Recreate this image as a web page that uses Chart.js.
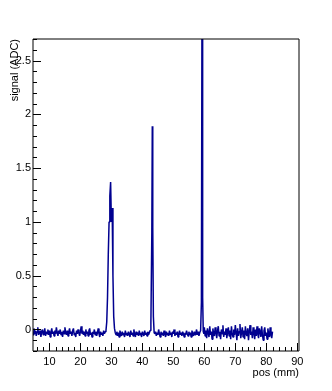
<!DOCTYPE html>
<html>
<head>
<meta charset="utf-8">
<script src="https://cdn.jsdelivr.net/npm/chart.js@4/dist/chart.umd.min.js"></script>
<style>
html,body{margin:0;padding:0;background:#fff;}
canvas{display:block;}
</style>
</head>
<body>
<canvas id="c" width="332" height="391"></canvas>
<script>
// position along the scan (mm)
const pos = [
4.5,4.75,5,5.25,5.5,5.75,6,6.25,6.5,6.75,
7,7.25,7.5,7.75,8,8.25,8.5,8.75,9,9.25,
9.5,9.75,10,10.25,10.5,10.75,11,11.25,11.5,11.75,
12,12.25,12.5,12.75,13,13.25,13.5,13.75,14,14.25,
14.5,14.75,15,15.25,15.5,15.75,16,16.25,16.5,16.75,
17,17.25,17.5,17.75,18,18.25,18.5,18.75,19,19.25,
19.5,19.75,20,20.25,20.5,20.75,21,21.25,21.5,21.75,
22,22.25,22.5,22.75,23,23.25,23.5,23.75,24,24.25,
24.5,24.75,25,25.25,25.5,25.75,26,26.25,26.5,26.75,
27,27.25,27.5,27.75,28,
28.25,28.5,28.75,29,29.25,29.5,29.75,30,30.25,30.5,30.75,31,31.25,
31.5,31.75,32,32.25,32.5,32.75,33,33.25,33.5,33.75,
34,34.25,34.5,34.75,35,35.25,35.5,35.75,36,36.25,
36.5,36.75,37,37.25,37.5,37.75,38,38.25,38.5,38.75,
39,39.25,39.5,39.75,40,40.25,40.5,40.75,41,41.25,
41.5,41.75,42,42.25,42.5,
42.75,43.05,43.2,43.35,43.55,43.8,
44,44.25,44.5,44.75,45,45.25,45.5,45.75,46,46.25,
46.5,46.75,47,47.25,47.5,47.75,48,48.25,48.5,48.75,
49,49.25,49.5,49.75,50,50.25,50.5,50.75,51,51.25,
51.5,51.75,52,52.25,52.5,52.75,53,53.25,53.5,53.75,
54,54.25,54.5,54.75,55,55.25,55.5,55.75,56,56.25,
56.5,56.75,57,57.25,57.5,57.75,58,58.25,58.5,
58.8,59.05,59.25,59.45,59.65,
59.85,60,60.25,60.5,60.75,61,61.25,61.5,61.75,62,
62.25,62.5,62.75,63,63.25,63.5,63.75,64,64.25,64.5,
64.75,65,65.25,65.5,65.75,66,66.25,66.5,66.75,67,
67.25,67.5,67.75,68,68.25,68.5,68.75,69,69.25,69.5,
69.75,70,70.25,70.5,70.75,71,71.25,71.5,71.75,72,
72.25,72.5,72.75,73,73.25,73.5,73.75,74,74.25,74.5,
74.75,75,75.25,75.5,75.75,76,76.25,76.5,76.75,77,
77.25,77.5,77.75,78,78.25,78.5,78.75,79,79.25,79.5,
79.75,80,80.25,80.5,80.75,81,81.25,81.5,81.75,82
];
// signal (ADC)
const signal = [
-0.02,-0.05,0.01,-0.04,-0.01,-0.06,-0.02,0.02,-0.05,-0.03,
-0.01,-0.07,-0.02,0.00,-0.05,-0.03,0.01,-0.06,-0.02,-0.04,
0.00,-0.05,-0.01,-0.07,-0.03,0.01,-0.04,-0.02,-0.06,-0.01,
-0.04,0.02,-0.03,-0.06,-0.01,-0.04,0.00,-0.05,-0.02,-0.07,
-0.01,-0.04,0.02,-0.03,-0.05,-0.01,-0.06,-0.02,0.01,-0.04,
-0.02,-0.06,-0.01,0.01,-0.05,-0.03,-0.07,-0.01,-0.04,0.00,
-0.03,-0.06,-0.02,0.03,-0.04,-0.01,-0.05,-0.02,-0.06,0.00,
-0.04,-0.02,-0.06,-0.01,0.01,-0.05,-0.03,-0.07,-0.02,-0.04,
0.00,-0.05,-0.02,-0.06,-0.03,0.01,-0.04,-0.07,-0.02,-0.05,
-0.03,-0.06,-0.01,-0.04,-0.02,
-0.01,0.07,0.30,0.70,1.00,1.24,1.37,1.00,1.13,0.50,0.12,0.01,-0.03,
-0.05,-0.02,-0.06,-0.03,-0.07,-0.01,-0.04,-0.06,-0.02,-0.05,
-0.03,-0.07,-0.01,-0.05,-0.03,-0.06,-0.02,-0.04,-0.07,-0.01,
-0.05,-0.03,-0.06,0.00,-0.04,-0.07,-0.02,-0.05,-0.03,-0.06,
-0.01,-0.05,-0.03,-0.07,-0.02,-0.04,-0.06,-0.01,-0.05,-0.03,
-0.06,-0.02,-0.05,-0.03,-0.01,
0.06,0.90,1.89,0.95,0.12,-0.03,
-0.04,-0.02,-0.06,-0.03,-0.05,0.00,-0.04,-0.07,-0.02,-0.05,
-0.03,-0.06,-0.01,-0.04,-0.07,-0.02,-0.05,-0.03,-0.06,-0.01,
-0.05,-0.03,-0.07,-0.02,-0.04,0.00,-0.06,-0.03,-0.05,-0.02,
-0.07,-0.04,-0.01,-0.05,-0.03,-0.06,-0.02,-0.04,-0.07,-0.03,
-0.05,-0.01,-0.04,-0.06,-0.02,-0.05,-0.03,-0.07,-0.01,-0.04,
-0.06,-0.02,-0.05,-0.03,0.00,-0.05,-0.02,-0.06,-0.03,
-0.01,0.25,3.20,0.30,-0.02,
-0.04,0.02,-0.06,-0.01,-0.08,0.01,-0.03,-0.07,0.03,-0.05,
-0.02,-0.09,0.01,-0.04,-0.06,0.02,-0.03,-0.08,-0.01,0.03,
-0.06,-0.02,-0.09,0.00,-0.04,0.04,-0.07,-0.02,-0.05,0.01,
-0.08,-0.03,0.02,-0.06,-0.01,-0.09,0.03,-0.04,-0.07,0.00,
-0.05,0.04,-0.03,-0.10,0.01,-0.06,-0.02,0.05,-0.08,-0.03,
0.02,-0.07,-0.01,-0.09,0.03,-0.04,-0.06,0.01,-0.10,-0.02,
0.04,-0.05,-0.02,-0.08,0.02,-0.03,-0.09,0.00,-0.06,0.03,
-0.04,-0.08,0.01,-0.02,-0.07,0.03,-0.05,-0.10,-0.01,0.02,
-0.06,-0.03,-0.09,0.01,-0.04,-0.07,0.02,-0.05,-0.08,-0.02
];
const xTickLabels = [10,20,30,40,50,60,70,80,90];
const yTickLabels = [0,0.5,1,1.5,2,2.5];
const xRange = [4.7, 90.55];
const yRange = [-0.2, 2.7];
const xMinorStep = 2, yMinorStep = 0.1;

const FONT = "'Liberation Sans', Arial, Helvetica, sans-serif";

const points = pos.map((p, i) => ({x: p, y: signal[i]}));

const frameTicks = {
  id: 'frameTicks',
  afterDatasetsDraw(chart) {
    const {ctx, chartArea: a, scales: {x, y}} = chart;
    ctx.save();
    ctx.strokeStyle = '#000';
    ctx.lineWidth = 1;
    ctx.beginPath();
    ctx.rect(a.left, a.top, a.right - a.left, a.bottom - a.top);
    ctx.stroke();
    ctx.beginPath();
    for (let v = Math.ceil(xRange[0] / xMinorStep) * xMinorStep; v <= xRange[1] + 1e-9; v += xMinorStep) {
      const px = Math.round(x.getPixelForValue(v)) + 0.5;
      const major = xTickLabels.includes(Math.round(v));
      ctx.moveTo(px, a.bottom);
      ctx.lineTo(px, a.bottom - (major ? 8 : 4));
    }
    for (let k = Math.ceil(yRange[0] / yMinorStep); k * yMinorStep <= yRange[1] + 1e-9; k++) {
      const v = k * yMinorStep;
      const py = Math.round(y.getPixelForValue(v)) + 0.5;
      const major = (k % 5 === 0);
      ctx.moveTo(a.left, py);
      ctx.lineTo(a.left + (major ? 8 : 4), py);
    }
    ctx.stroke();
    ctx.restore();
  }
};

new Chart(document.getElementById('c'), {
  type: 'line',
  data: {
    datasets: [{
      data: points,
      borderColor: '#000090',
      borderWidth: 1.5,
      pointRadius: 0,
      tension: 0,
      fill: false,
      borderJoinStyle: 'bevel'
    }]
  },
  options: {
    responsive: false,
    animation: false,
    events: [],
    layout: {padding: {top: 39, right: 33, bottom: 0, left: 0}},
    plugins: {legend: {display: false}, tooltip: {enabled: false}},
    scales: {
      x: {
        type: 'linear',
        min: xRange[0], max: xRange[1],
        grid: {display: false, drawTicks: false},
        border: {display: false},
        afterBuildTicks: s => { s.ticks = xTickLabels.map(v => ({value: v})); },
        afterFit: s => { s.height = 40; },
        ticks: {
          color: '#000', padding: 4, maxRotation: 0, autoSkip: false,
          font: {family: FONT, size: 11},
          callback: v => String(v)
        },
        title: {
          display: true, text: 'pos (mm)', align: 'end', color: '#000',
          font: {family: FONT, size: 11}, padding: {top: 0, bottom: 11}
        }
      },
      y: {
        type: 'linear',
        min: yRange[0], max: yRange[1],
        grid: {display: false, drawTicks: false},
        border: {display: false},
        afterBuildTicks: s => { s.ticks = yTickLabels.map(v => ({value: v})); },
        afterFit: s => { s.width = 33; },
        ticks: {
          color: '#000', padding: 2, autoSkip: false,
          font: {family: FONT, size: 11},
          callback: v => String(v)
        },
        title: {
          display: true, text: 'signal (ADC)', align: 'end', color: '#000',
          font: {family: FONT, size: 11}, padding: {top: 8, bottom: 0}
        }
      }
    }
  },
  plugins: [frameTicks]
});
</script>
</body>
</html>
